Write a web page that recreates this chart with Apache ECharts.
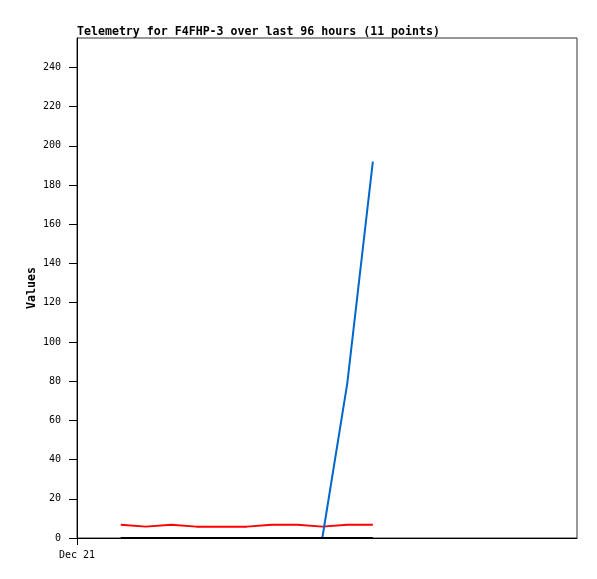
<!DOCTYPE html>
<html>
<head>
<meta charset="utf-8">
<script src="https://cdn.jsdelivr.net/npm/echarts@6/dist/echarts.min.js"></script>
<style>html,body{margin:0;padding:0;background:#fff}#c{width:597px;height:579px}</style>
</head>
<body>
<div id="c"></div>
<script>
// hours since Dec 21 00:00
var hours = [8.4, 13.2, 18.1, 22.9, 27.8, 32.6, 37.4, 42.3, 47.1, 51.9, 56.8];
var redValues = [6.8, 5.8, 6.8, 5.8, 5.8, 5.8, 6.8, 6.8, 5.8, 6.8, 6.8];
var blueValues = [0, 0, 0, 0, 0, 0, 0, 0, 0, 79, 192];
var blackValues = [0, 0, 0, 0, 0, 0, 0, 0, 0, 0, 0];
var yTicks = [0, 20, 40, 60, 80, 100, 120, 140, 160, 180, 200, 220, 240];
var xTicks = [0];
var xTickLabels = ['Dec 21'];

function pairs(vals) { return hours.map(function (h, i) { return [h, vals[i]]; }); }

var mono = '"DejaVu Sans Mono", monospace';
var chart = echarts.init(document.getElementById('c'));
chart.setOption({
  animation: false,
  title: {
    text: 'Telemetry for F4FHP-3 over last 96 hours (11 points)',
    left: 77, top: 26, padding: 0,
    textStyle: { fontFamily: mono, fontSize: 11.6, fontWeight: 'bold', color: '#000' }
  },
  grid: { left: 77, right: 20, top: 38, bottom: 41, show: true, borderColor: '#333', borderWidth: 1, backgroundColor: '#fff' },
  xAxis: {
    type: 'value', min: 0, max: 96,
    axisLine: { lineStyle: { color: '#000', width: 1 } },
    axisTick: { show: true, length: 7, customValues: xTicks, lineStyle: { color: '#000' } },
    axisLabel: {
      customValues: xTicks,
      formatter: function (v) { var i = xTicks.indexOf(v); return i >= 0 ? xTickLabels[i] : ''; },
      fontFamily: mono, fontSize: 10, color: '#000', margin: 12
    },
    splitLine: { show: false }
  },
  yAxis: {
    type: 'value', min: 0, max: 255,
    name: 'Values', nameLocation: 'middle', nameGap: 39, nameMoveOverlap: false,
    nameTextStyle: { fontFamily: mono, fontSize: 11.6, fontWeight: 'bold', color: '#000' },
    axisLine: { show: true, lineStyle: { color: '#000', width: 1 } },
    axisTick: { show: true, length: 8, customValues: yTicks, lineStyle: { color: '#000' } },
    axisLabel: { customValues: yTicks, fontFamily: mono, fontSize: 10, color: '#000', margin: 16 },
    splitLine: { show: false }
  },
  series: [
    { type: 'line', data: pairs(redValues), showSymbol: false, lineStyle: { color: '#ff0000', width: 2 }, itemStyle: { color: '#ff0000' } },
    { type: 'line', data: pairs(blueValues), showSymbol: false, lineStyle: { color: '#0066cc', width: 2 }, itemStyle: { color: '#0066cc' } },
    { type: 'line', data: pairs(blackValues), showSymbol: false, lineStyle: { color: '#000000', width: 2 }, itemStyle: { color: '#000' } }
  ]
});
</script>
</body>
</html>
